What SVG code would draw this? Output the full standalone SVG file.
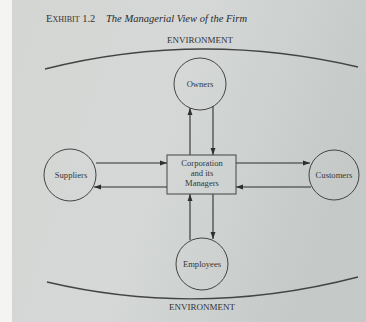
<svg xmlns="http://www.w3.org/2000/svg" width="366" height="322" viewBox="0 0 366 322">
  <defs>
    <linearGradient id="paper" x1="0" y1="0" x2="1" y2="0.3">
      <stop offset="0" stop-color="#d4d6d3"/>
      <stop offset="0.5" stop-color="#d5d8d7"/>
      <stop offset="1" stop-color="#c5cac9"/>
    </linearGradient>
    <marker id="arrow" viewBox="0 0 10 10" refX="10" refY="5" markerWidth="7" markerHeight="7" markerUnits="userSpaceOnUse" orient="auto">
      <path d="M0,1.5 L10,5 L0,8.5 Z" fill="#2e2e2e"/>
    </marker>
    <style>
      .label { font-family: "Liberation Serif", "Times New Roman", serif; fill: #363636; font-size: 8.6px; text-anchor: middle; }
      .env { font-family: "Liberation Serif", "Times New Roman", serif; fill: #333; font-size: 8.5px; text-anchor: middle; }
      .node { fill: none; stroke: #444; stroke-width: 1; }
      .box { fill: none; stroke: #444; stroke-width: 1; }
      .edge { fill: none; stroke: #2e2e2e; stroke-width: 1.1; marker-end: url(#arrow); }
      .horizon { fill: none; stroke: #444; stroke-width: 1.3; }
    </style>
  </defs>

  <!-- sheet and margin -->
  <rect x="0" y="0" width="366" height="322" fill="#f4f4f2"/>
  <rect x="12" y="0" width="354" height="322" fill="url(#paper)"/>

  <!-- heading -->
  <text x="46" y="22" font-family="'Liberation Serif', 'Times New Roman', serif" fill="#333" font-size="10.5">E<tspan font-size="8">XHIBIT</tspan> 1.2</text>
  <text x="106" y="22" font-family="'Liberation Serif', 'Times New Roman', serif" font-style="italic" fill="#2a2a2a" font-size="10.5" textLength="141" lengthAdjust="spacingAndGlyphs">The Managerial View of the Firm</text>

  <!-- environment boundaries -->
  <g id="environment-top">
    <path class="horizon" d="M45,69 Q200,30 358,67"/>
    <text class="env" x="200" y="43" textLength="66" lengthAdjust="spacingAndGlyphs">ENVIRONMENT</text>
  </g>
  <g id="environment-bottom">
    <path class="horizon" d="M47,282 Q200,318 358,277"/>
    <text class="env" x="202" y="310" textLength="66" lengthAdjust="spacingAndGlyphs">ENVIRONMENT</text>
  </g>

  <!-- connectors -->
  <g id="connectors">
    <line class="edge" x1="190" y1="155" x2="190" y2="108"/>
    <line class="edge" x1="213" y1="106" x2="213" y2="155"/>
    <line class="edge" x1="96" y1="163" x2="167" y2="163"/>
    <line class="edge" x1="167" y1="187" x2="94" y2="187"/>
    <line class="edge" x1="236" y1="163" x2="310" y2="163"/>
    <line class="edge" x1="311" y1="187" x2="236" y2="187"/>
    <line class="edge" x1="190" y1="240" x2="190" y2="194"/>
    <line class="edge" x1="213" y1="194" x2="213" y2="239"/>
  </g>

  <!-- nodes -->
  <g id="owners">
    <circle class="node" cx="200" cy="84" r="26"/>
    <text class="label" x="200" y="87">Owners</text>
  </g>
  <g id="corporation">
    <rect class="box" x="167" y="155" width="69" height="39"/>
    <text class="label" x="202" y="166" font-size="9">Corporation</text>
    <text class="label" x="202" y="176" font-size="9">and its</text>
    <text class="label" x="202" y="186" font-size="9">Managers</text>
  </g>
  <g id="suppliers">
    <circle class="node" cx="70" cy="175" r="26"/>
    <text class="label" x="71" y="178">Suppliers</text>
  </g>
  <g id="customers">
    <circle class="node" cx="334" cy="175" r="25"/>
    <text class="label" x="334" y="178">Customers</text>
  </g>
  <g id="employees">
    <circle class="node" cx="202" cy="264" r="26"/>
    <text class="label" x="202" y="267">Employees</text>
  </g>
</svg>
